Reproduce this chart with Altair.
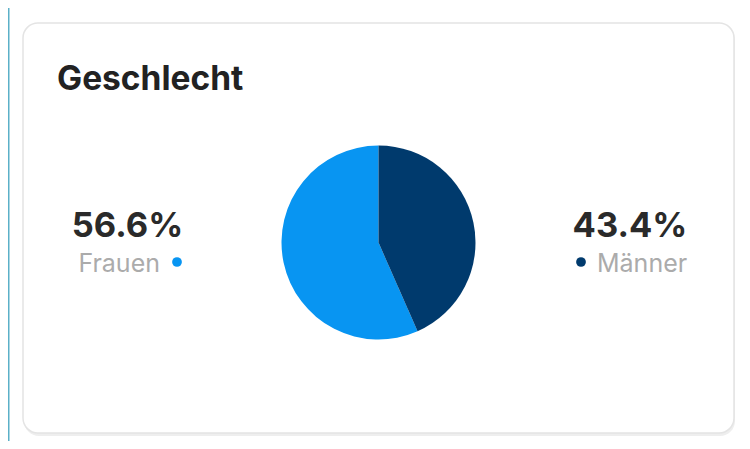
import altair as alt
import pandas as pd

title_text = "Geschlecht"
categories = ["Frauen", "Männer"]
shares = [56.6, 43.4]
colors = ["#0895f2", "#003a6d"]

df = pd.DataFrame({"category": categories, "share": shares})

base = alt.Chart(df)
one = alt.Chart(pd.DataFrame({"k": [0]}))

FONT = "Inter"

strip = one.mark_rect(color="#5bb0c8").encode(
    x=alt.value(0), x2=alt.value(1.5), y=alt.value(0), y2=alt.value(433)
)

shadow = one.mark_rect(cornerRadius=15, fill="#eeeeee").encode(
    x=alt.value(16), x2=alt.value(727), y=alt.value(17), y2=alt.value(428)
)

card = one.mark_rect(cornerRadius=15, fill="white", stroke="#e4e4e4", strokeWidth=1.5).encode(
    x=alt.value(15), x2=alt.value(726), y=alt.value(15), y2=alt.value(425)
)

title = one.mark_text(
    text=title_text, font=FONT, fontSize=33.5, fontWeight="bold", color="#222222",
    align="left", baseline="alphabetic"
).encode(x=alt.value(49), y=alt.value(82))

pie = base.mark_arc(radius=97).encode(
    theta=alt.Theta("share:Q", stack=True),
    color=alt.Color("category:N", scale=alt.Scale(domain=categories, range=colors), legend=None),
    order=alt.Order("category:N", sort="descending"),
    x=alt.value(370.5),
    y=alt.value(234.5),
)

def pct_layer(cat, x):
    return base.transform_filter(alt.datum.category == cat).transform_calculate(
        label="format(datum.share, '.1f') + '%'"
    ).mark_text(
        font=FONT, fontSize=34.5, fontWeight="bold", color="#2a2a2a",
        align="center", baseline="alphabetic"
    ).encode(text="label:N", x=alt.value(x), y=alt.value(229))

def name_layer(cat, x, align):
    return base.transform_filter(alt.datum.category == cat).mark_text(
        font=FONT, fontSize=25, color="#ababab", align=align, baseline="alphabetic"
    ).encode(text="category:N", x=alt.value(x), y=alt.value(264))

def dot_layer(cat, x):
    return base.transform_filter(alt.datum.category == cat).mark_point(
        filled=True, size=95, opacity=1
    ).encode(
        color=alt.Color("category:N", scale=alt.Scale(domain=categories, range=colors), legend=None),
        x=alt.value(x), y=alt.value(254),
    )

chart = alt.layer(
    strip, shadow, card, title, pie,
    pct_layer("Frauen", 119.5), name_layer("Frauen", 152, "right"), dot_layer("Frauen", 169),
    pct_layer("Männer", 622), name_layer("Männer", 589, "left"), dot_layer("Männer", 573),
).properties(
    width=734, height=433, padding=0, background="white",
    autosize=alt.AutoSizeParams(type="none")
).configure_view(stroke=None)

chart.save("out.html", embed_options={"renderer": "svg", "actions": False})
